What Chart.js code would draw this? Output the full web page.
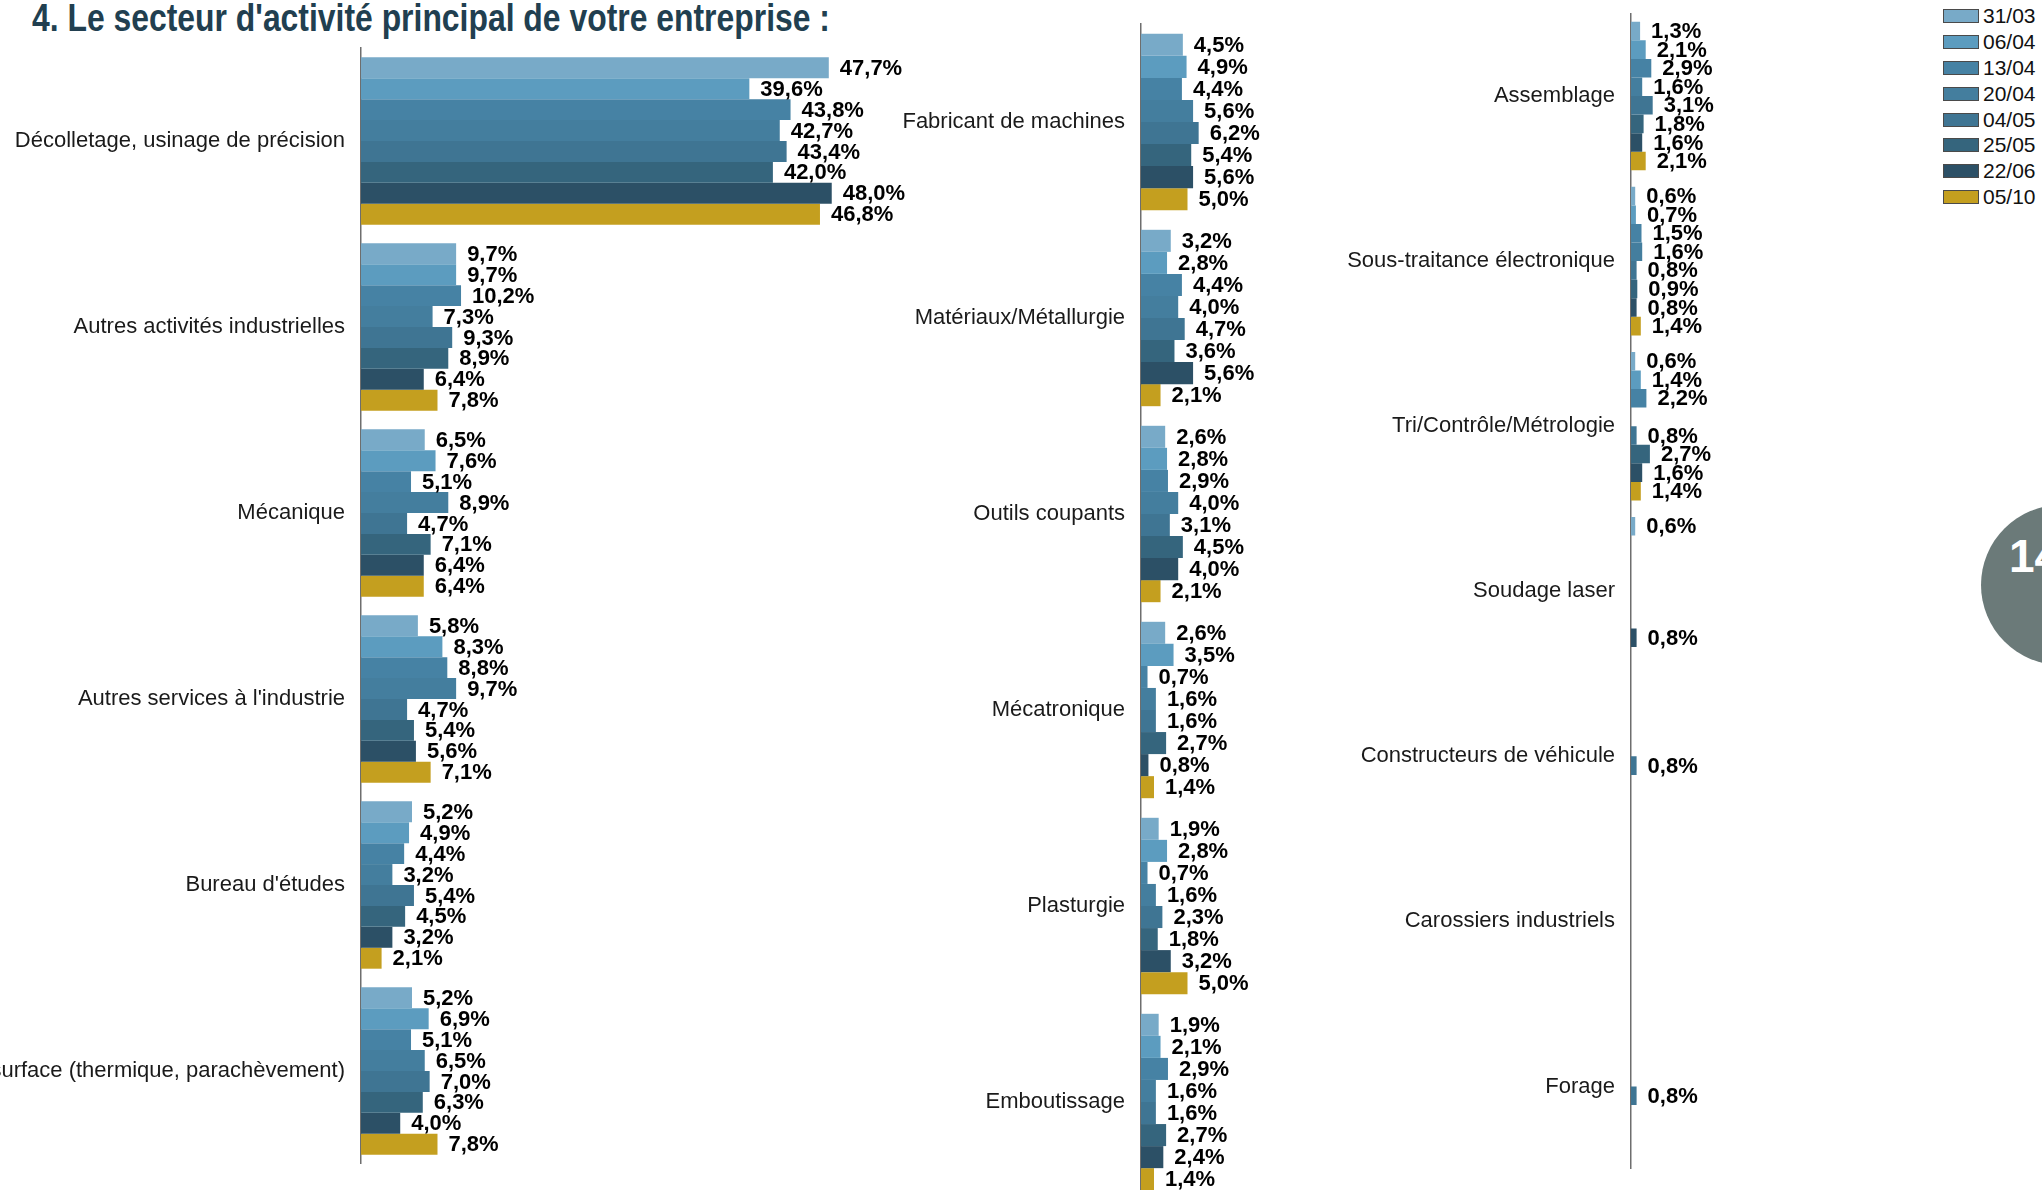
<!DOCTYPE html>
<html lang="fr">
<head>
<meta charset="utf-8">
<title>Secteur d'activité principal</title>
<script src="https://cdn.jsdelivr.net/npm/chart.js@4.4.1/dist/chart.umd.min.js"></script>
<style>
  html, body { margin: 0; padding: 0; background: #fff; }
  body { width: 2042px; height: 1190px; overflow: hidden; position: relative; font-family: "Liberation Sans", Arial, sans-serif; }
  canvas { position: absolute; top: 0; }
  #title {
    position: absolute; left: 32px; top: -1px; margin: 0;
    font: bold 38px/1 "Liberation Sans", Arial, sans-serif;
    color: #213f50; white-space: nowrap; transform-origin: 0 0;
  }
  #legend { position: absolute; left: 1943px; top: 3px; }
  #legend .row { display: flex; align-items: center; height: 25.9px; }
  #legend .box { width: 36px; height: 14px; box-sizing: border-box; border: 1px solid #4a4a4a; }
  #legend .txt { margin-left: 4px; font-size: 21px; color: #111; }
  #page {
    position: absolute; left: 1981px; top: 505px; width: 160px; height: 160px;
    border-radius: 50%; background: #6b7a79;
  }
  #page span {
    position: absolute; left: 28px; top: 28px;
    font: bold 46px/1 "Liberation Sans", Arial, sans-serif; color: #fff;
  }
</style>
</head>
<body>
<h1 id="title">4. Le secteur d'activité principal de votre entreprise :</h1>
<canvas id="left-chart" width="920" height="1164" style="left:0"></canvas>
<canvas id="middle-chart" width="427" height="1200" style="left:900px"></canvas>
<canvas id="right-chart" width="581" height="1169" style="left:1330px"></canvas>
<div id="legend"></div>
<div id="page"><span>14</span></div>

<script>
// Survey dates (one series each)
const seriesLabels = ['31/03', '06/04', '13/04', '20/04', '04/05', '25/05', '22/06', '05/10'];
const seriesColors = ['#78aac8', '#5c9cbf', '#4682a4', '#447e9e', '#3f7593', '#35657d', '#2c5066', '#c49f1f'];

// Left panel
const leftCategories = [
  'Décolletage, usinage de précision',
  'Autres activités industrielles',
  'Mécanique',
  "Autres services à l'industrie",
  "Bureau d'études",
  'Traitement de surface (thermique, parachèvement)'
];
const leftValues = [
  [47.7, 39.6, 43.8, 42.7, 43.4, 42.0, 48.0, 46.8],
  [9.7, 9.7, 10.2, 7.3, 9.3, 8.9, 6.4, 7.8],
  [6.5, 7.6, 5.1, 8.9, 4.7, 7.1, 6.4, 6.4],
  [5.8, 8.3, 8.8, 9.7, 4.7, 5.4, 5.6, 7.1],
  [5.2, 4.9, 4.4, 3.2, 5.4, 4.5, 3.2, 2.1],
  [5.2, 6.9, 5.1, 6.5, 7.0, 6.3, 4.0, 7.8]
];

// Middle panel
const middleCategories = [
  'Fabricant de machines',
  'Matériaux/Métallurgie',
  'Outils coupants',
  'Mécatronique',
  'Plasturgie',
  'Emboutissage'
];
const middleValues = [
  [4.5, 4.9, 4.4, 5.6, 6.2, 5.4, 5.6, 5.0],
  [3.2, 2.8, 4.4, 4.0, 4.7, 3.6, 5.6, 2.1],
  [2.6, 2.8, 2.9, 4.0, 3.1, 4.5, 4.0, 2.1],
  [2.6, 3.5, 0.7, 1.6, 1.6, 2.7, 0.8, 1.4],
  [1.9, 2.8, 0.7, 1.6, 2.3, 1.8, 3.2, 5.0],
  [1.9, 2.1, 2.9, 1.6, 1.6, 2.7, 2.4, 1.4]
];

// Right panel (null = no answer for that date)
const rightCategories = [
  'Assemblage',
  'Sous-traitance électronique',
  'Tri/Contrôle/Métrologie',
  'Soudage laser',
  'Constructeurs de véhicule',
  'Carossiers industriels',
  'Forage'
];
const rightValues = [
  [1.3, 2.1, 2.9, 1.6, 3.1, 1.8, 1.6, 2.1],
  [0.6, 0.7, 1.5, 1.6, 0.8, 0.9, 0.8, 1.4],
  [0.6, 1.4, 2.2, null, 0.8, 2.7, 1.6, 1.4],
  [0.6, null, null, null, null, null, 0.8, null],
  [null, null, null, null, 0.8, null, null, null],
  [null, null, null, null, null, null, null, null],
  [null, null, null, null, 0.8, null, null, null]
];

const labelFont = '"Liberation Sans", Arial, sans-serif';

// Percent labels at the end of each bar
const valueLabels = {
  id: 'valueLabels',
  afterDatasetsDraw(chart) {
    const ctx = chart.ctx;
    ctx.save();
    ctx.font = 'bold 22px ' + labelFont;
    ctx.fillStyle = '#000';
    ctx.textAlign = 'left';
    ctx.textBaseline = 'middle';
    chart.data.datasets.forEach((ds, i) => {
      chart.getDatasetMeta(i).data.forEach((bar, j) => {
        const v = ds.data[j];
        if (v === null || v === undefined) return;
        ctx.fillText(v.toFixed(1).replace('.', ',') + '%', bar.x + 11, bar.y + 1);
      });
    });
    ctx.restore();
  }
};

function buildDatasets(rows) {
  return seriesLabels.map((label, s) => ({
    label: label,
    data: rows.map(r => r[s]),
    backgroundColor: seriesColors[s],
    borderWidth: 0,
    barPercentage: 1,
    categoryPercentage: 0.9
  }));
}

function makePanel(id, categories, rows, axisWidth, xMax, padTop) {
  const ctx = document.getElementById(id).getContext('2d');
  return new Chart(ctx, {
    type: 'bar',
    data: { labels: categories, datasets: buildDatasets(rows) },
    options: {
      indexAxis: 'y',
      responsive: false,
      animation: false,
      devicePixelRatio: 1,
      layout: { padding: { top: padTop, left: 0, right: 0, bottom: 0 } },
      plugins: {
        legend: { display: false },
        tooltip: { enabled: false }
      },
      scales: {
        x: { display: false, min: 0, max: xMax },
        y: {
          grid: { display: false, drawTicks: false },
          border: { display: true, color: '#6e6e6e', width: 1.5 },
          ticks: {
            autoSkip: false,
            padding: 16,
            color: '#1a1a1a',
            font: { family: labelFont, size: 22 }
          },
          // fixed axis width, and no extra room for the first/last label
          afterFit: (scale) => {
            scale.width = axisWidth;
            scale.paddingTop = 0;
            scale.paddingBottom = 0;
          }
        }
      }
    },
    plugins: [valueLabels]
  });
}

// Initialize charts
function initCharts() {
  makePanel('left-chart', leftCategories, leftValues, 361, 57, 48);
  makePanel('middle-chart', middleCategories, middleValues, 241, 20, 24);
  makePanel('right-chart', rightCategories, rightValues, 301, 40, 13.5);

  // squeeze the title to the original width
  const title = document.getElementById('title');
  title.style.transform = 'scaleX(' + (798 / title.scrollWidth) + ')';

  // Legend
  const legend = document.getElementById('legend');
  seriesLabels.forEach((label, s) => {
    const row = document.createElement('div');
    row.className = 'row';
    const box = document.createElement('span');
    box.className = 'box';
    box.style.background = seriesColors[s];
    const txt = document.createElement('span');
    txt.className = 'txt';
    txt.textContent = label;
    row.appendChild(box);
    row.appendChild(txt);
    legend.appendChild(row);
  });
}

document.addEventListener('DOMContentLoaded', initCharts);
</script>
</body>
</html>
